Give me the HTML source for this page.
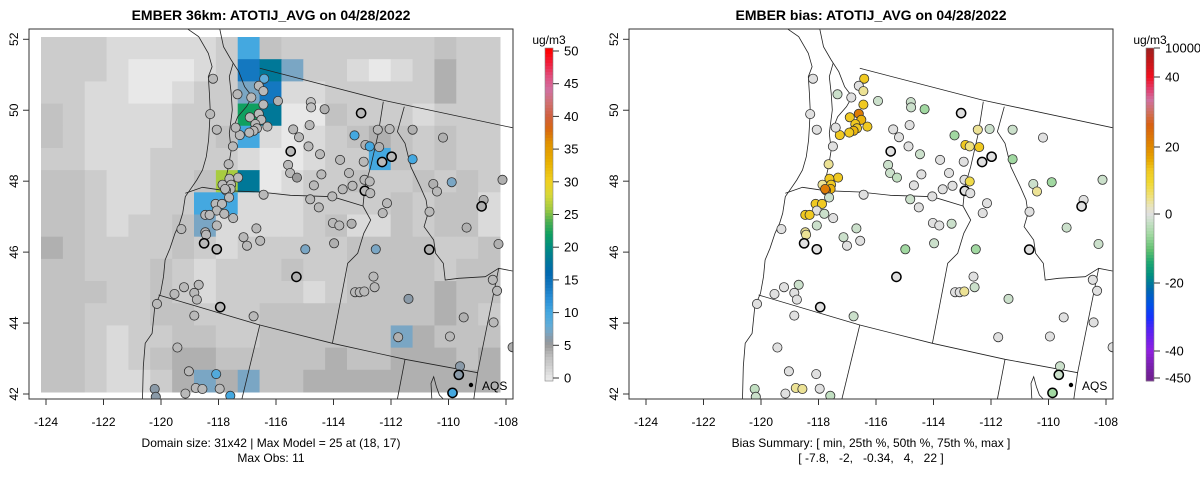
<!DOCTYPE html>
<html><head><meta charset="utf-8"><style>
html,body{margin:0;padding:0;background:#fff}
svg{display:block;font-family:"Liberation Sans",Arial,sans-serif}
</style></head><body>
<svg id="s" width="1200" height="479" viewBox="0 0 1200 479" xmlns="http://www.w3.org/2000/svg">
<defs><clipPath id="clipL"><rect x="29" y="29" width="484" height="370"/></clipPath></defs>
</svg>
<script>
// ---- data ----
const gridRows = [
"222111112b32222222322",
"222100012cda221012422",
"221100122ac1122222422",
"321111222ed0032221222",
"321111223b10123432322",
"221112222100122b32322",
"33211223fd01223223232",
"3321122bb111222232331",
"3321223a1111231132331",
"432222321222223333223",
"332223212223223333233",
"333223212222123333433",
"332223322233333333432",
"3321223322333333a4333",
"332123443333343344434",
"3321124a4a33444444444"];
const gridCodes = {a:7,b:10,c:14,d:18,e:22,f:26};
const stLon = [-118.19,-116.41,-116.60,-116.44,-117.34,-116.86,-116.44,-115.93,-114.79,-114.78,
 -114.31,-113.04,-118.29,-118.06,-116.91,-116.60,-116.51,-116.72,-116.66,-116.78,
 -116.93,-117.26,-117.40,-116.30,-117.50,-117.65,-117.32,-117.62,-117.86,-117.56,
 -117.58,-117.74,-117.77,-117.63,-118.10,-117.88,-118.06,-117.80,-117.49,-118.46,
 -118.31,-118.06,-119.29,-118.46,-118.43,-118.50,-118.06,-116.68,-117.13,-117.01,
 -116.55,-115.40,-115.20,-114.83,-115.49,-114.87,-114.47,-115.58,-115.51,-115.27,
 -114.42,-114.68,-113.77,-113.46,-113.34,-113.68,-114.04,-114.81,-114.51,-116.43,
 -113.27,-112.89,-112.74,-112.41,-112.46,-112.05,-112.95,-112.31,-111.98,-112.92,
 -112.74,-112.91,-112.72,-112.14,-112.29,-114.02,-113.80,-113.37,-113.98,-114.98,
 -112.53,-111.25,-110.19,-111.25,-110.53,-110.40,-109.89,-110.66,-108.78,-108.85,
 -108.12,-109.37,-108.26,-110.67,-115.29,-112.61,-112.57,-113.25,-113.09,-112.93,
 -111.39,-108.46,-108.31,-109.47,-108.43,-109.95,-111.75,-107.77,-109.60,-109.64,
 -109.86,-119.20,-118.69,-119.53,-118.84,-118.75,-117.94,-120.14,-118.84,-116.78,
 -119.43,-119.03,-118.08,-120.22,-120.18,-119.15,-118.79,-118.56,-117.96,-117.59];
const stLat = [50.89,50.89,50.69,50.54,50.45,50.36,50.16,50.26,50.23,50.08,
 50.03,49.92,49.89,49.45,49.80,49.90,49.73,49.61,49.49,49.42,
 49.37,49.30,49.51,49.54,48.98,48.48,48.10,48.07,47.90,47.90,
 47.78,47.74,47.78,47.54,47.36,47.36,47.17,47.08,46.96,47.05,
 47.05,46.75,46.65,46.56,46.49,46.25,46.08,46.67,46.42,46.18,
 46.32,49.46,49.24,49.58,48.84,48.98,48.76,48.46,48.23,48.10,
 48.19,47.88,48.60,48.23,47.87,47.77,47.57,47.49,47.26,47.62,
 49.29,49.02,48.98,48.96,49.45,49.47,48.55,48.54,48.69,48.04,
 47.99,47.73,47.66,47.38,47.10,46.82,46.75,46.80,46.25,46.08,
 46.08,49.45,49.23,48.62,47.92,47.71,47.97,47.14,47.47,47.29,
 48.04,46.69,46.23,46.07,45.30,45.31,45.01,44.87,44.87,44.89,
 44.68,45.22,44.91,44.16,44.02,43.62,43.60,43.32,42.78,42.54,
 42.03,45.01,45.08,44.82,44.85,44.66,44.45,44.54,44.21,44.19,
 43.31,42.64,42.56,42.14,41.92,42.01,42.17,42.14,42.15,41.95];
const stObs = [3.5,8,3.5,3.5,3.5,3.5,3.5,4,3,3,
 4,3.5,3.5,3.5,3.5,3.5,3.5,3.5,3.5,3.5,
 3.5,3.5,3.5,3.5,3.5,3.5,3.5,3.5,3.5,3.5,
 3.5,3.5,3.5,3.5,3.5,3.5,3.5,3.5,3.5,3.5,
 3.5,3.5,3.5,3.5,3.5,3.5,3.5,3.5,3.5,3.5,
 3.5,3.5,3.5,3.5,3.5,3.5,3.5,3.5,3.5,5,
 3.5,3.5,3.5,3.5,3.5,3.5,3.5,3.5,3.5,3.5,
 10,4,10,4,3.5,3.5,3.5,3.5,3.5,3.5,
 3.5,3.5,3.5,3.5,3.5,3.5,3.5,4,4,7,
 7,4,4,10,4,3.5,7,3.5,4,4,
 4,4,4,4,4,3.5,3.5,3.5,3.5,3.5,
 6,3.5,3.5,4,3.5,3.5,4,4,6,6,
 10,3.5,3.5,3.5,3.5,3.5,3.5,3.5,3.5,3.5,
 3.5,3.5,9,6,6,3.5,3.5,3.5,3.5,10];
const stBias = [0,13,0,4,-2,0,13,-2,-2,-2,
 -6,0,0,0,13,22,15,13,13,15,
 13,13,0,13,0,4,13,13,4,13,
 15,22,22,-2,13,13,0,-2,0,13,
 13,-2,0,4,4,0,0,-2,-2,0,
 0,0,0,0,0,0,-2,-2,-2,-3,
 0,0,0,0,0,0,0,-2,0,0,
 -6,13,5,13,4,-2,0,0,0,0,
 8,0,0,0,0,0,0,-2,-2,-6,
 -6,-2,0,-6,-2,4,-6,0,0,0,
 -2,-2,-2,0,0,0,-2,0,0,4,
 -2,0,0,0,0,0,0,0,-2,-2,
 -6,0,-2,0,0,0,0,0,0,-2,
 0,0,0,-3,-2,0,4,4,0,-3];
const boldIdx = [11,45,46,54,77,78,81,99,103,104,119,120,126];
const lonTicks = [-124,-122,-120,-118,-116,-114,-112,-110,-108];
const latTicks = [42,44,46,48,50,52];
const obsTicks = [0,5,10,15,20,25,30,35,40,45,50];
const biasTicks = [10000,40,20,0,-20,-40,-450];
const biasTickLabels = ["10000","40","20","0","-20","-40","-450"];

// ---- helpers ----
const NS="http://www.w3.org/2000/svg";
const svg=document.getElementById('s');
function mk(tag,attrs,parent){const e=document.createElementNS(NS,tag);for(const k in attrs)e.setAttribute(k,attrs[k]);(parent||svg).appendChild(e);return e;}
const xLon=lon=>46+(lon+124)*28.75;
const yLat=lat=>394-(lat-42)*35.47;
function hex(c){return [parseInt(c.slice(1,3),16),parseInt(c.slice(3,5),16),parseInt(c.slice(5,7),16)];}
function interp(stops,v){
  if(v<=stops[0][0])return stops[0][1];
  for(let i=1;i<stops.length;i++){if(v<=stops[i][0]){const a=stops[i-1],b=stops[i];const t=(v-a[0])/(b[0]-a[0]);const ca=hex(a[1]),cb=hex(b[1]);return 'rgb('+ca.map((x,j)=>Math.round(x+(cb[j]-x)*t)).join(',')+')';}}
  return stops[stops.length-1][1];
}
const obsStops=[[0,'#e8e8e8'],[1,'#dadada'],[2,'#cccccc'],[3,'#c2c2c2'],[4,'#b0b0b0'],[5,'#9a9a9a'],[6,'#8a9aa8'],[7,'#7aa6c4'],[8,'#60acd8'],[10,'#44a8e0'],[12,'#2a90d8'],[14,'#1478c0'],[16,'#0068b0'],[18,'#007898'],[20,'#008c80'],[22,'#10a060'],[24,'#50b050'],[26,'#a8cc40'],[28,'#d8d838'],[30,'#f0d020'],[33,'#e8b000'],[36,'#e09000'],[38,'#d86810'],[40,'#d06040'],[42,'#d07070'],[44,'#d070a0'],[46,'#e05080'],[48,'#f02040'],[50,'#ff0000']];
const obsColor=v=>interp(obsStops,v);
const obsY=v=>378-v*6.54;
const biasPos=[[10000,48],[40,77],[20,147],[0,214],[-20,283],[-40,351],[-450,378]];
function biasY(v){for(let i=1;i<biasPos.length;i++){const a=biasPos[i-1],b=biasPos[i];if(v>=b[0]){return a[1]+(b[1]-a[1])*(a[0]-v)/(a[0]-b[0]);}}return 378;}
const biasYStops=[[48,'#9a2020'],[60,'#c01818'],[77,'#f01020'],[90,'#e04070'],[100,'#d070a0'],[112,'#d07060'],[125,'#d86010'],[147,'#e08800'],[160,'#e8a800'],[170,'#f0c820'],[182,'#f0d830'],[195,'#f0e070'],[207,'#e8e4c0'],[214,'#e0e0e0'],[222,'#c8e0c8'],[235,'#a0d8a0'],[250,'#60c070'],[262,'#20a870'],[275,'#009080'],[290,'#0068b0'],[305,'#0050e8'],[318,'#1830ff'],[333,'#6020f0'],[351,'#9020e0'],[365,'#7a20b0'],[378,'#702090']];
const biasColor=v=>interp(biasYStops,biasY(v));

const Z=(p)=>p.map(q=>[q[0]/2.617,q[1]/3]);
const mapLines=[
 [[490,86],[520,110],[545,160],[555,200],[545,230],[548,280],[550,330],[548,380],[546,420],[540,470],[530,510],[515,540],[500,565],[485,590],[478,640],[470,670],[458,700],[445,745],[432,780],[428,830],[420,880],[405,920],[398,1000],[380,1030],[375,1100],[373,1197]],
 [[575,86],[585,140],[605,180],[625,215],[640,260],[660,290],[645,320],[622,350],[610,385],[630,405],[655,395],[665,370]],
 [[610,190],[600,230],[605,280],[608,330],[600,400],[605,450],[598,500],[590,540],[575,560]],
 [[680,205],[1000,300],[1341,383]],
 [[485,580],[530,562],[590,572],[680,576],[760,586],[870,590],[950,618]],
 [[1003,305],[990,400],[970,500],[955,560],[950,618],[970,660],[952,700],[936,760],[910,790],[905,820],[870,1030]],
 [[415,885],[680,975],[870,1030],[1060,1078],[1250,1118]],
 [[680,975],[633,1197]],
 [[1060,1078],[1040,1197]],
 [[1058,320],[1040,395],[1060,430],[1075,500],[1100,560],[1115,600],[1120,640],[1110,680],[1135,720],[1140,760],[1160,790],[1165,840],[1200,835],[1270,830],[1305,805],[1341,813]],
 [[1305,805],[1250,1118],[1240,1197]],
 [[1130,1195],[1128,1150],[1135,1130],[1142,1160],[1150,1185],[1160,1197]]
];

function panel(off,kind){
  const g=mk('g',{transform:'translate('+off+',0)'});
  
  
  const title=mk('text',{x:271,y:20,'text-anchor':'middle','font-size':'14','font-weight':'bold'},g);
  title.textContent=kind==='obs'?'EMBER 36km: ATOTIJ_AVG on 04/28/2022':'EMBER bias: ATOTIJ_AVG on 04/28/2022';
  
  
  const plot=mk('g',{'clip-path':'url(#clipL)'},g);
  
  
  if(kind==='obs'){
    const x0=41,x1=500,y0=37,y1=392,nc=21,nr=gridRows.length;
    const cw=(x1-x0)/nc,ch=(y1-y0)/nr;
    gridRows.forEach((row,r)=>{for(let c=0;c<nc;c++){const k=row[c];const v=(k in gridCodes)?gridCodes[k]:+k;
      const cell=mk('rect',{x:(x0+c*cw).toFixed(2),y:(y0+r*ch).toFixed(2),width:(cw+0.5).toFixed(2),height:(ch+0.5).toFixed(2),fill:obsColor(v)},plot);
      
      }});
  }
  mapLines.forEach(l=>{const p=Z(l);const pl=mk('polyline',{points:p.map(q=>q[0].toFixed(1)+','+q[1].toFixed(1)).join(' '),fill:'none',stroke:'#222','stroke-width':'0.8'},plot);
    
    });
  for(let i=0;i<stLon.length;i++){
    const bold=boldIdx.includes(i);
    const c=mk('circle',{cx:xLon(stLon[i]).toFixed(1),cy:yLat(stLat[i]).toFixed(1),r:4.6,fill:kind==='obs'?obsColor(stObs[i]):biasColor(stBias[i]),stroke:bold?'#000':'#333','stroke-width':bold?1.5:0.8},plot);
    
    
  }
  const ld=mk('circle',{cx:471,cy:385,r:2.2,fill:'#000'},g);
  
  
  const lt=mk('text',{x:482,y:390,'font-size':'12'},g);lt.textContent='AQS';
  
  
  const box=mk('rect',{x:29,y:29,width:484,height:370,fill:'none',stroke:'#333','stroke-width':'1'},g);
  
  
  lonTicks.forEach(t=>{const x=xLon(t);
    const tl=mk('line',{x1:x,y1:399,x2:x,y2:405,stroke:'#333'},g);
    
    
    const tx=mk('text',{x:x,y:426,'text-anchor':'middle','font-size':'12'},g);tx.textContent=String(t);
    
    });
  latTicks.forEach(t=>{const y=yLat(t);
    const tl=mk('line',{x1:23,y1:y,x2:29,y2:y,stroke:'#333'},g);
    
    
    const tx=mk('text',{x:0,y:0,'text-anchor':'middle','font-size':'12',transform:'translate(18,'+y.toFixed(1)+') rotate(-90)'},g);tx.textContent=String(t);
    
    });
  const s1=mk('text',{x:271,y:447,'text-anchor':'middle','font-size':'12'},g);
  const s2=mk('text',{x:271,y:462,'text-anchor':'middle','font-size':'12','xml:space':'preserve'},g);
  if(kind==='obs'){s1.textContent='Domain size: 31x42 | Max Model = 25 at (18, 17)';s2.textContent='Max Obs: 11';}
  else{s1.textContent='Bias Summary: [ min, 25th %, 50th %, 75th %, max ]';s2.textContent='[ -7.8,   -2,   -0.34,   4,   22 ]';s2.style.whiteSpace='pre';}
  
  
  
  
  const cb=mk('g',{},g);
  
  
  const bx=kind==='obs'?545:546;
  for(let y=48;y<381;y+=3){
    const col=kind==='obs'?obsColor((378-(y+1.5))/6.54):interp(biasYStops,y+1.5);
    const r=mk('rect',{x:bx,y:y,width:8,height:3.4,fill:col},cb);
    
    
  }
  const fr=mk('rect',{x:bx,y:48,width:8,height:333,fill:'none',stroke:'#888','stroke-width':'0.6'},cb);
  
  
  const un=mk('text',{x:bx+4,y:44,'text-anchor':'middle','font-size':'12'},cb);un.textContent='ug/m3';
  
  
  const ticks=kind==='obs'?obsTicks:biasTicks;
  ticks.forEach((t,i)=>{const y=kind==='obs'?obsY(t):biasY(t);
    const tl=mk('line',{x1:bx+8,y1:y,x2:bx+14,y2:y,stroke:'#333'},cb);
    
    
    const tx=mk('text',{x:bx+19,y:y+4.5,'font-size':'13'},cb);
    tx.textContent=kind==='obs'?String(t):biasTickLabels[i];
    
    });
}
panel(0,'obs');
panel(600,'bias');
</script>
</body></html>
